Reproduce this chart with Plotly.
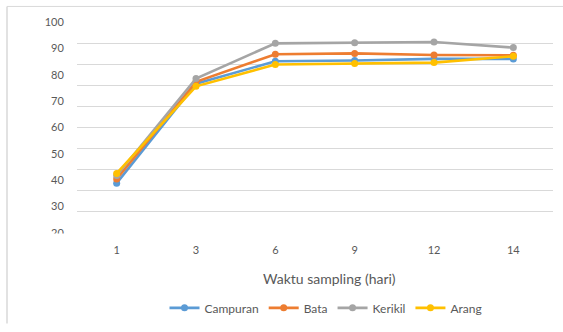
import plotly.graph_objects as go

# Sampling days (category axis) and measured values per media
days = ["1", "3", "6", "9", "12", "14"]
campuran = [38.9, 76.6, 85.1, 85.4, 86.0, 86.0]
bata = [40.5, 77.3, 87.8, 88.1, 87.5, 87.4]
kerikil = [41.8, 78.6, 91.9, 92.1, 92.4, 90.3]
arang = [42.6, 75.6, 83.9, 84.3, 84.6, 87.0]

y_ticks = [20, 30, 40, 50, 60, 70, 80, 90, 100]

series = [
    ("Campuran", campuran, "#5B9BD5"),
    ("Bata", bata, "#ED7D31"),
    ("Kerikil", kerikil, "#A5A5A5"),
    ("Arang", arang, "#FFC000"),
]

FONT = "Lato, 'Open Sans', sans-serif"
TXT = "#595959"

fig = go.Figure()
for name, vals, color in series:
    fig.add_trace(go.Scatter(
        x=days, y=vals, name=name, mode="lines+markers",
        line=dict(color=color, width=2.6),
        marker=dict(color=color, size=7),
    ))

# Invisible helper trace to host the gridline axis
fig.add_trace(go.Scatter(x=days, y=[None] * len(days), yaxis="y2",
                         showlegend=False, hoverinfo="skip"))

W, H = 563, 332
ML, MR, MT, MB = 77, 10, 22, 93
PW, PH = W - ML - MR, H - MT - MB


def px(x):
    return (x - ML) / PW


def py(y):
    return (H - MB - y) / PH


fig.update_layout(
    width=W, height=H,
    margin=dict(l=ML, r=MR, t=MT, b=MB),
    paper_bgcolor="white", plot_bgcolor="white",
    font=dict(family=FONT, size=11, color=TXT),
    showlegend=True,
    legend=dict(orientation="h", x=px(326), xanchor="center", y=py(316),
                yanchor="middle", font=dict(size=12, color=TXT),
                itemwidth=30, traceorder="normal"),
    xaxis=dict(type="category", range=[-0.5, len(days) - 0.5],
               showgrid=False, showline=False, zeroline=False,
               ticks="outside", ticklen=7, tickcolor="rgba(0,0,0,0)",
               tickfont=dict(size=11, color=TXT)),
    yaxis=dict(range=[20, 100], tickvals=y_ticks, showgrid=False,
               zeroline=False, showline=False, ticks="outside", ticklen=10,
               tickcolor="rgba(0,0,0,0)", tickfont=dict(size=11, color=TXT)),
    yaxis2=dict(range=[20, 100], overlaying="y", tick0=20, dtick=8,
                showgrid=True, gridcolor="#D9D9D9", gridwidth=1,
                showticklabels=False, zeroline=False, showline=False),
    annotations=[
        dict(text="Waktu sampling (hari)", xref="paper", yref="paper",
             x=px(329), y=py(286), xanchor="center", yanchor="middle",
             showarrow=False, font=dict(size=14, color=TXT)),
        # white strip trimming the lowest tick label
        dict(text=" ", xref="paper", yref="paper", x=px(50), y=py(246),
             xanchor="center", yanchor="middle", showarrow=False,
             width=40, height=12, bgcolor="white", borderpad=0,
             font=dict(size=6)),
    ],
)

# Chart frame (top and left edges)
fig.add_shape(type="line", xref="paper", yref="paper",
              x0=px(7), x1=px(W), y0=py(6), y1=py(6),
              line=dict(color="#D9D9D9", width=1))
fig.add_shape(type="line", xref="paper", yref="paper",
              x0=px(7), x1=px(7), y0=py(6), y1=py(H),
              line=dict(color="#D9D9D9", width=1.5))

fig.write_html("out.html")
